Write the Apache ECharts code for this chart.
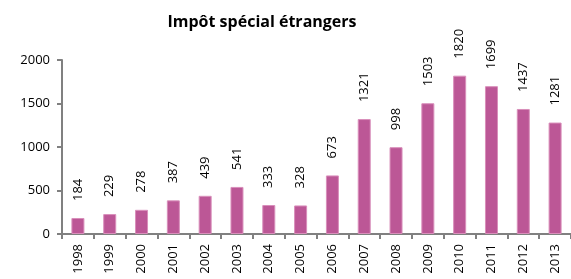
<!DOCTYPE html>
<html>
<head>
<meta charset="utf-8">
<script src="https://cdn.jsdelivr.net/npm/echarts@6/dist/echarts.min.js"></script>
<style>
html, body { margin: 0; padding: 0; background: #fff; }
#chart { width: 571px; height: 279px; }
</style>
</head>
<body>
<div id="chart"></div>
<script>
var years = ['1998', '1999', '2000', '2001', '2002', '2003', '2004', '2005',
             '2006', '2007', '2008', '2009', '2010', '2011', '2012', '2013'];
var impot = [184, 229, 278, 387, 439, 541, 333, 328, 673, 1321, 998, 1503, 1820, 1699, 1437, 1281];

var myChart = echarts.init(document.getElementById('chart'));
var font = 'Open Sans';

var option = {
    animation: false,
    title: {
        text: 'Impôt spécial étrangers',
        left: 257,
        textAlign: 'center',
        top: 9,
        textStyle: {
            fontFamily: font,
            fontSize: 16,
            fontWeight: 'bold',
            color: '#000'
        }
    },
    grid: {
        top: 60,
        left: 62,
        right: 0,
        bottom: 45,
        containLabel: false
    },
    xAxis: {
        type: 'category',
        data: years,
        axisLine: { lineStyle: { color: '#808080', width: 2 } },
        axisTick: { show: true, length: 5, lineStyle: { color: '#808080', width: 2 } },
        axisLabel: {
            rotate: 90,
            margin: 10,
            fontFamily: font,
            fontSize: 13,
            color: '#000'
        }
    },
    yAxis: {
        type: 'value',
        min: 0,
        max: 2000,
        interval: 500,
        splitLine: { show: false },
        axisLine: { show: true, lineStyle: { color: '#808080', width: 2 } },
        axisTick: { show: true, length: 5, lineStyle: { color: '#808080', width: 2 } },
        axisLabel: {
            margin: 12,
            fontFamily: font,
            fontSize: 13,
            color: '#000',
            formatter: function (v) { return String(v); }
        }
    },
    series: [{
        name: 'Impôt spécial étrangers',
        type: 'bar',
        data: impot,
        barWidth: 13,
        itemStyle: {
            color: '#bc5796',
            borderColor: '#d98fbb',
            borderWidth: 1
        },
        label: {
            show: true,
            position: 'top',
            rotate: 90,
            align: 'left',
            verticalAlign: 'middle',
            distance: 17,
            fontFamily: font,
            fontSize: 13,
            color: '#000'
        }
    }]
};
myChart.setOption(option, true);
</script>
</body>
</html>
